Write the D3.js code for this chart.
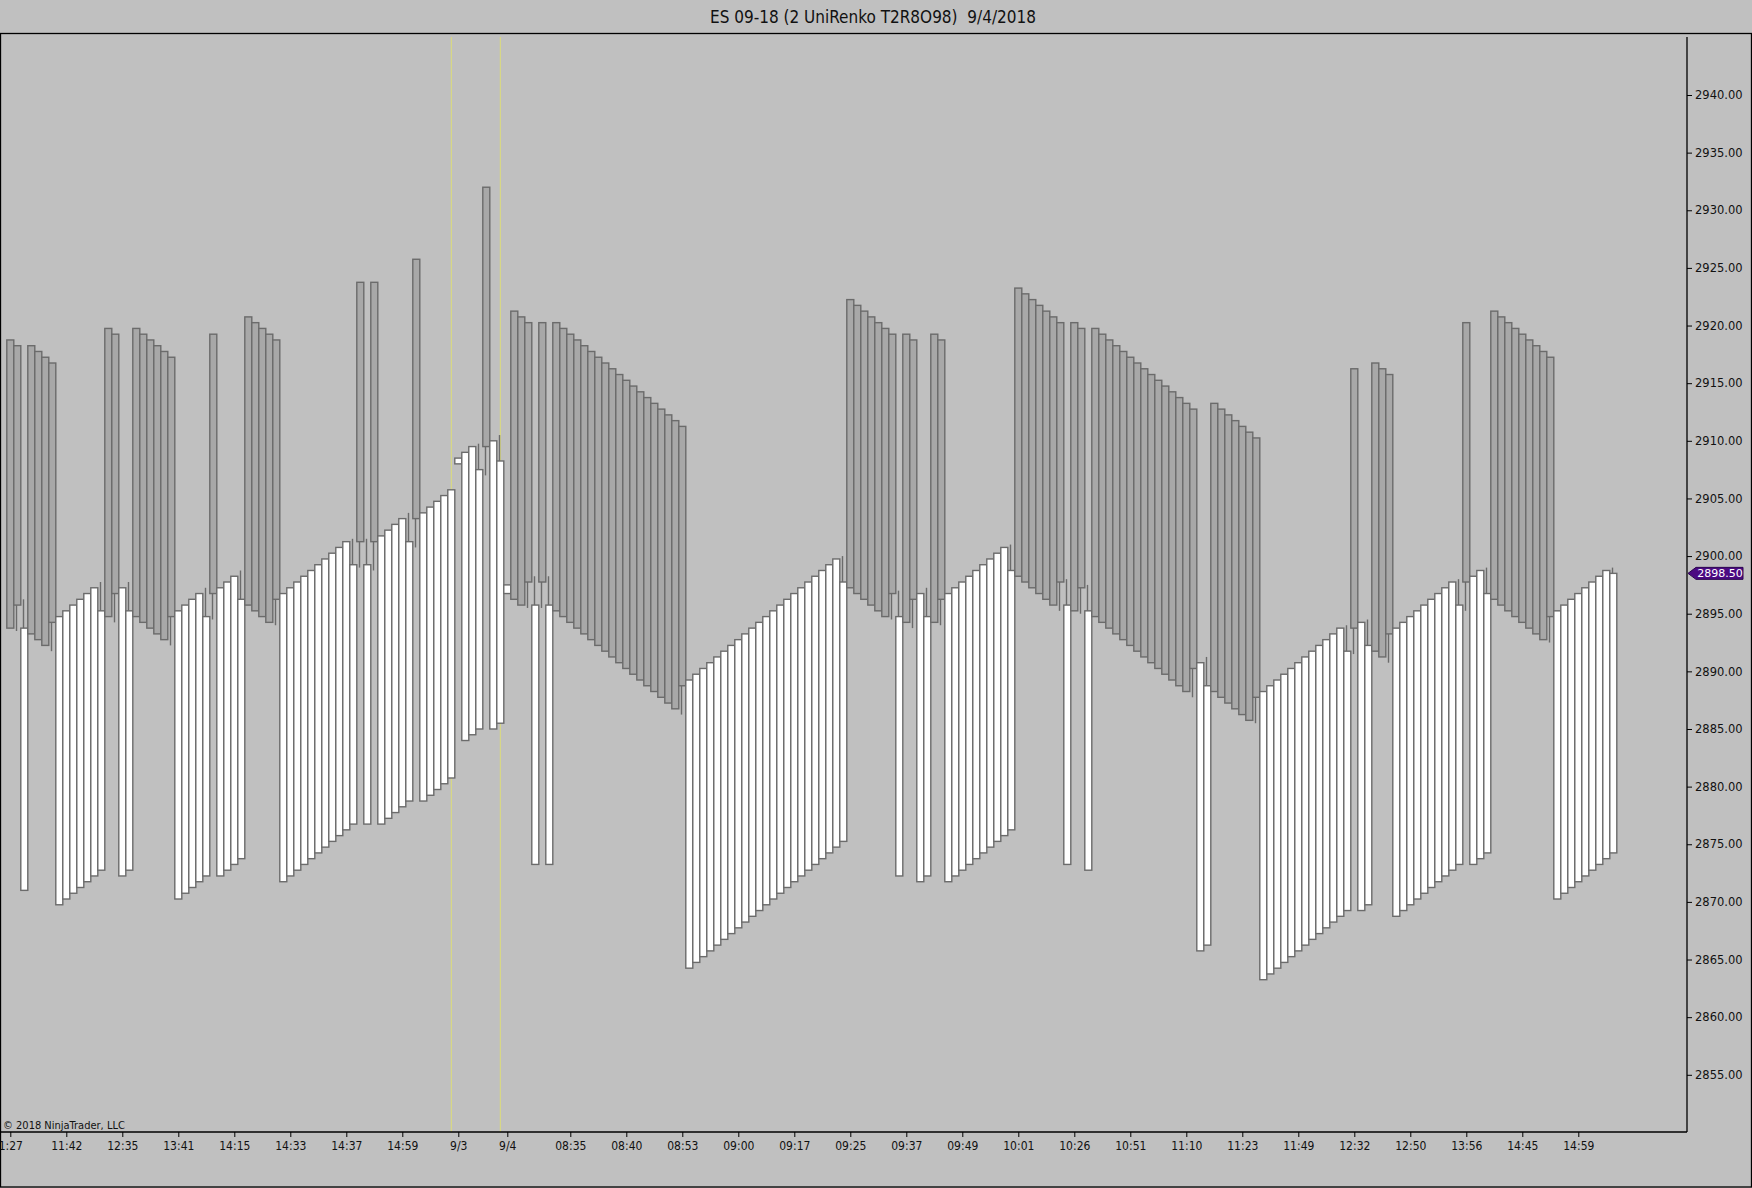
<!DOCTYPE html>
<html>
<head>
<meta charset="utf-8">
<script src="https://cdn.jsdelivr.net/npm/d3@7"></script>
<style>
  body { margin: 0; background: #c0c0c0; }
  svg { display: block; }
  .cond { font-family: "DejaVu Sans Condensed", "Liberation Sans Narrow", "DejaVu Sans", sans-serif; font-stretch: condensed; }
</style>
</head>
<body>
<svg id="chart" width="1752" height="1188"></svg>
<script>
// Bar data (ES 09-18, 2 UniRenko T2R8O98)
var opens = [
  2918.75, 2918.25, 2871.0, 2918.25, 2917.75, 2917.25, 2916.75, 2869.75, 2870.25, 2870.75,
  2871.25, 2871.75, 2872.25, 2872.75, 2919.75, 2919.25, 2872.25, 2872.75, 2919.75, 2919.25,
  2918.75, 2918.25, 2917.75, 2917.25, 2870.25, 2870.75, 2871.25, 2871.75, 2872.25, 2919.25,
  2872.25, 2872.75, 2873.25, 2873.75, 2920.75, 2920.25, 2919.75, 2919.25, 2918.75, 2871.75,
  2872.25, 2872.75, 2873.25, 2873.75, 2874.25, 2874.75, 2875.25, 2875.75, 2876.25, 2876.75,
  2923.75, 2876.75, 2923.75, 2876.75, 2877.25, 2877.75, 2878.25, 2878.75, 2925.75, 2878.75,
  2879.25, 2879.75, 2880.25, 2880.75, 2908.0, 2884.0, 2884.5, 2885.0, 2932.0, 2885.0,
  2885.5, 2896.75, 2921.25, 2920.75, 2920.25, 2873.25, 2920.25, 2873.25, 2920.25, 2919.75,
  2919.25, 2918.75, 2918.25, 2917.75, 2917.25, 2916.75, 2916.25, 2915.75, 2915.25, 2914.75,
  2914.25, 2913.75, 2913.25, 2912.75, 2912.25, 2911.75, 2911.25, 2864.25, 2864.75, 2865.25,
  2865.75, 2866.25, 2866.75, 2867.25, 2867.75, 2868.25, 2868.75, 2869.25, 2869.75, 2870.25,
  2870.75, 2871.25, 2871.75, 2872.25, 2872.75, 2873.25, 2873.75, 2874.25, 2874.75, 2875.25,
  2922.25, 2921.75, 2921.25, 2920.75, 2920.25, 2919.75, 2919.25, 2872.25, 2919.25, 2918.75,
  2871.75, 2872.25, 2919.25, 2918.75, 2871.75, 2872.25, 2872.75, 2873.25, 2873.75, 2874.25,
  2874.75, 2875.25, 2875.75, 2876.25, 2923.25, 2922.75, 2922.25, 2921.75, 2921.25, 2920.75,
  2920.25, 2873.25, 2920.25, 2919.75, 2872.75, 2919.75, 2919.25, 2918.75, 2918.25, 2917.75,
  2917.25, 2916.75, 2916.25, 2915.75, 2915.25, 2914.75, 2914.25, 2913.75, 2913.25, 2912.75,
  2865.75, 2866.25, 2913.25, 2912.75, 2912.25, 2911.75, 2911.25, 2910.75, 2910.25, 2863.25,
  2863.75, 2864.25, 2864.75, 2865.25, 2865.75, 2866.25, 2866.75, 2867.25, 2867.75, 2868.25,
  2868.75, 2869.25, 2916.25, 2869.25, 2869.75, 2916.75, 2916.25, 2915.75, 2868.75, 2869.25,
  2869.75, 2870.25, 2870.75, 2871.25, 2871.75, 2872.25, 2872.75, 2873.25, 2920.25, 2873.25,
  2873.75, 2874.25, 2921.25, 2920.75, 2920.25, 2919.75, 2919.25, 2918.75, 2918.25, 2917.75,
  2917.25, 2870.25, 2870.75, 2871.25, 2871.75, 2872.25, 2872.75, 2873.25, 2873.75, 2874.25
];

var closes = [
  2893.75, 2895.75, 2893.75, 2893.25, 2892.75, 2892.25, 2894.25, 2894.75, 2895.25, 2895.75,
  2896.25, 2896.75, 2897.25, 2895.25, 2894.75, 2896.75, 2897.25, 2895.25, 2894.75, 2894.25,
  2893.75, 2893.25, 2892.75, 2894.75, 2895.25, 2895.75, 2896.25, 2896.75, 2894.75, 2896.75,
  2897.25, 2897.75, 2898.25, 2896.25, 2895.75, 2895.25, 2894.75, 2894.25, 2896.25, 2896.75,
  2897.25, 2897.75, 2898.25, 2898.75, 2899.25, 2899.75, 2900.25, 2900.75, 2901.25, 2899.25,
  2901.25, 2899.25, 2901.25, 2901.75, 2902.25, 2902.75, 2903.25, 2901.25, 2903.25, 2903.75,
  2904.25, 2904.75, 2905.25, 2905.75, 2908.5, 2909.0, 2909.5, 2907.5, 2909.5, 2910.0,
  2908.25, 2897.5, 2896.25, 2895.75, 2897.75, 2895.75, 2897.75, 2895.75, 2895.25, 2894.75,
  2894.25, 2893.75, 2893.25, 2892.75, 2892.25, 2891.75, 2891.25, 2890.75, 2890.25, 2889.75,
  2889.25, 2888.75, 2888.25, 2887.75, 2887.25, 2886.75, 2888.75, 2889.25, 2889.75, 2890.25,
  2890.75, 2891.25, 2891.75, 2892.25, 2892.75, 2893.25, 2893.75, 2894.25, 2894.75, 2895.25,
  2895.75, 2896.25, 2896.75, 2897.25, 2897.75, 2898.25, 2898.75, 2899.25, 2899.75, 2897.75,
  2897.25, 2896.75, 2896.25, 2895.75, 2895.25, 2894.75, 2896.75, 2894.75, 2894.25, 2896.25,
  2896.75, 2894.75, 2894.25, 2896.25, 2896.75, 2897.25, 2897.75, 2898.25, 2898.75, 2899.25,
  2899.75, 2900.25, 2900.75, 2898.75, 2898.25, 2897.75, 2897.25, 2896.75, 2896.25, 2895.75,
  2897.75, 2895.75, 2895.25, 2897.25, 2895.25, 2894.75, 2894.25, 2893.75, 2893.25, 2892.75,
  2892.25, 2891.75, 2891.25, 2890.75, 2890.25, 2889.75, 2889.25, 2888.75, 2888.25, 2890.25,
  2890.75, 2888.75, 2888.25, 2887.75, 2887.25, 2886.75, 2886.25, 2885.75, 2887.75, 2888.25,
  2888.75, 2889.25, 2889.75, 2890.25, 2890.75, 2891.25, 2891.75, 2892.25, 2892.75, 2893.25,
  2893.75, 2891.75, 2893.75, 2894.25, 2892.25, 2891.75, 2891.25, 2893.25, 2893.75, 2894.25,
  2894.75, 2895.25, 2895.75, 2896.25, 2896.75, 2897.25, 2897.75, 2895.75, 2897.75, 2898.25,
  2898.75, 2896.75, 2896.25, 2895.75, 2895.25, 2894.75, 2894.25, 2893.75, 2893.25, 2892.75,
  2894.75, 2895.25, 2895.75, 2896.25, 2896.75, 2897.25, 2897.75, 2898.25, 2898.75, 2898.5
];

// [bar index, wick end price] for bars whose high/low sticks out of the body
var wicks = [
  [1, 2893.5], [2, 2896.25], [6, 2891.75], [13, 2897.75], [15, 2894.25], [17, 2897.75],
  [23, 2892.25], [28, 2897.25], [29, 2894.5], [33, 2898.75], [38, 2894.0], [49, 2901.5],
  [50, 2899.0], [51, 2901.5], [52, 2898.75], [57, 2903.75], [58, 2900.75], [67, 2909.75],
  [68, 2907.0], [70, 2910.5], [74, 2895.5], [75, 2898.25], [76, 2895.5], [77, 2898.25],
  [96, 2886.25], [119, 2900.0], [126, 2894.5], [127, 2897.0], [129, 2893.75], [131, 2897.25],
  [133, 2894.0], [143, 2901.0], [150, 2895.25], [151, 2898.0], [153, 2895.0], [154, 2897.5],
  [169, 2887.75], [171, 2891.25], [178, 2885.5], [191, 2894.0], [192, 2891.5], [194, 2894.5],
  [197, 2890.75], [207, 2898.0], [208, 2895.25], [211, 2899.0], [220, 2892.5], [229, 2899.0]
];

var priceTicks = d3.range(2855, 2941, 5);
var timeTickIdx = [0, 8, 16, 24, 32, 40, 48, 56, 64, 71, 80, 88, 96, 104, 112, 120, 128, 136,
  144, 152, 160, 168, 176, 184, 192, 200, 208, 216, 224];
var timeTickLabels = ["1:27", "11:42", "12:35", "13:41", "14:15", "14:33", "14:37", "14:59", "9/3",
  "9/4", "08:35", "08:40", "08:53", "09:00", "09:17", "09:25", "09:37", "09:49", "10:01", "10:26",
  "10:51", "11:10", "11:23", "11:49", "12:32", "12:50", "13:56", "14:45", "14:59"];
var sessionBreaks = [63, 70];
var lastPrice = 2898.50;
var title = "ES 09-18 (2 UniRenko T2R8O98)  9/4/2018";

// layout
var W = 1752, H = 1188,
    plotLeft = 1, plotRight = 1687, plotTop = 37, plotBottom = 1132;

var svg = d3.select("#chart");

svg.append("rect").attr("width", W).attr("height", H).attr("fill", "#c0c0c0");

// scales: one bar every 7px, 5 points every ~57.6px
var x = d3.scaleLinear().domain([0, closes.length - 1]).range([10.3, 10.3 + 7 * (closes.length - 1)]);
var y = d3.scaleLinear().domain([2855, 2940]).range([1074.8, 95]);

// clip for the price panel
svg.append("clipPath").attr("id", "plotClip")
  .append("rect")
  .attr("x", plotLeft).attr("y", plotTop)
  .attr("width", plotRight - plotLeft).attr("height", plotBottom - plotTop);

var plot = svg.append("g").attr("clip-path", "url(#plotClip)");

// session break lines
plot.selectAll("line.session")
  .data(sessionBreaks)
  .enter().append("line")
  .attr("class", "session")
  .attr("x1", function (d) { return x(d); })
  .attr("x2", function (d) { return x(d); })
  .attr("y1", plotTop).attr("y2", plotBottom)
  .attr("stroke", "#dcdc78")
  .attr("stroke-width", 1);

var bars = closes.map(function (c, i) {
  return { i: i, o: opens[i], c: c, up: c >= opens[i] };
});

// wicks first, bodies drawn over them
plot.selectAll("line.wick")
  .data(wicks)
  .enter().append("line")
  .attr("class", "wick")
  .attr("x1", function (d) { return x(d[0]) - 0.8; })
  .attr("x2", function (d) { return x(d[0]) - 0.8; })
  .attr("y1", function (d) {
    var b = bars[d[0]];
    return d[1] > Math.max(b.o, b.c) ? y(Math.max(b.o, b.c)) : y(Math.min(b.o, b.c));
  })
  .attr("y2", function (d) { return y(d[1]); })
  .attr("stroke", "#6b6b6b")
  .attr("stroke-width", 1.4);

plot.selectAll("rect.bar")
  .data(bars)
  .enter().append("rect")
  .attr("class", "bar")
  .attr("x", function (d) { return x(d.i) - 3.5; })
  .attr("width", 7)
  .attr("y", function (d) { return y(Math.max(d.o, d.c)); })
  .attr("height", function (d) { return Math.max(0.5, Math.abs(y(d.o) - y(d.c))); })
  .attr("fill", function (d) { return d.up ? "#ffffff" : "#a8a8a8"; })
  .attr("stroke", "#6b6b6b")
  .attr("stroke-width", 1.4);

// price axis on the right
var yAxis = svg.append("g")
  .attr("transform", "translate(" + plotRight + ",0)")
  .call(d3.axisRight(y).tickValues(priceTicks).tickSize(5).tickPadding(3)
    .tickFormat(d3.format(".2f")));
yAxis.select(".domain").remove();
yAxis.selectAll("line").attr("stroke", "#000");
yAxis.selectAll("text")
  .attr("fill", "#111")
  .style("font-family", "'DejaVu Sans', Verdana, sans-serif")
  .style("font-size", "11.5px");

// time axis along the bottom
var xAxis = svg.append("g")
  .attr("transform", "translate(0," + plotBottom + ")")
  .call(d3.axisBottom(x).tickValues(timeTickIdx).tickSize(5).tickPadding(4)
    .tickFormat(function (d, k) { return timeTickLabels[k]; }));
xAxis.select(".domain").remove();
xAxis.selectAll("line").attr("stroke", "#000");
xAxis.selectAll("text")
  .attr("class", "cond")
  .attr("fill", "#111")
  .style("font-size", "12px");

// panel frame lines
svg.append("line").attr("x1", plotRight).attr("x2", plotRight)
  .attr("y1", plotTop).attr("y2", plotBottom)
  .attr("stroke", "#000").attr("stroke-width", 1.3);
svg.append("line").attr("x1", 0).attr("x2", plotRight)
  .attr("y1", plotBottom).attr("y2", plotBottom)
  .attr("stroke", "#000").attr("stroke-width", 1.3);
svg.append("rect")
  .attr("x", 0.5).attr("y", 33.5).attr("width", W - 1).attr("height", H - 34.5)
  .attr("fill", "none").attr("stroke", "#000").attr("stroke-width", 1.3);

// last price marker
var ly = y(lastPrice);
svg.append("path")
  .attr("d", "M" + (plotRight + 1) + "," + ly + " L" + (plotRight + 9) + "," + (ly - 6) +
    " L" + (plotRight + 56) + "," + (ly - 6) + " L" + (plotRight + 56) + "," + (ly + 6) +
    " L" + (plotRight + 9) + "," + (ly + 6) + " Z")
  .attr("fill", "#4b0a82")
  .attr("stroke", "#2c0650")
  .attr("stroke-width", 1);
svg.append("text")
  .attr("x", plotRight + 33).attr("y", ly).attr("dy", "0.36em")
  .attr("text-anchor", "middle")
  .attr("fill", "#fff")
  .style("font-family", "'DejaVu Sans', Verdana, sans-serif")
  .style("font-size", "11px")
  .text(d3.format(".2f")(lastPrice));

// title and copyright
svg.append("text")
  .attr("class", "cond")
  .attr("x", 873).attr("y", 23)
  .attr("text-anchor", "middle")
  .attr("fill", "#111")
  .style("font-size", "17px")
  .style("white-space", "pre")
  .text(title);

svg.append("text")
  .attr("class", "cond")
  .attr("x", 3).attr("y", 1129)
  .attr("fill", "#111")
  .style("font-size", "11px")
  .text("\u00a9 2018 NinjaTrader, LLC");
</script>
</body>
</html>
